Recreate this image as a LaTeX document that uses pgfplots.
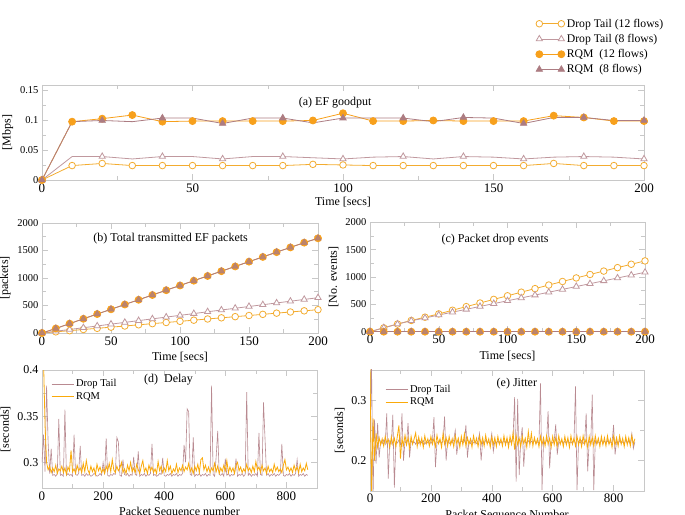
\documentclass[border=0pt]{standalone}
\usepackage{fontspec}
\setmainfont{Liberation Serif}
\usepackage{pgfplots}
\pgfplotsset{compat=1.18}
\usepackage{pgfplotstable}

\definecolor{frame}{RGB}{200,200,200}
\definecolor{dtor}{RGB}{243,172,48}
\definecolor{rqor}{RGB}{247,160,28}
\definecolor{dtmv}{RGB}{192,152,158}
\definecolor{rqmv}{RGB}{172,124,130}
\definecolor{lnmv}{RGB}{185,138,145}
\definecolor{lnor}{RGB}{250,170,10}

\tikzset{ttl/.style={font=\fontsize{12}{14}\selectfont, anchor=center, inner sep=0pt}}

\pgfplotsset{
  panel/.style={
    scale only axis, anchor=south west,
    axis line style={draw=frame}, tick style={draw=frame, line width=0.5pt},
    major tick length=6pt, minor tick length=4pt, minor tick num=1,
    tick align=inside,
    scaled ticks=false,
    /pgf/number format/assume math mode=true,
    /pgf/number format/1000 sep={},
    /pgf/number format/fixed,
    /pgf/number format/precision=3,
    xticklabel style={font=\fontsize{13}{15}\selectfont},
    yticklabel style={font=\fontsize{10.5}{12}\selectfont},
    label style={font=\fontsize{12}{14}\selectfont},
    legend cell align=left,
    legend image code/.code={\draw[##1,mark repeat=1] plot coordinates {(0pt,0pt) (22pt,0pt)};},
  },
  dt12/.style={dtor, line width=0.8pt, mark=*, mark size=3.3pt, mark options={fill=white, line width=0.8pt}},
  dt8/.style={dtmv, line width=0.8pt, mark=triangle*, mark size=3.6pt, mark options={fill=white, line width=0.8pt}},
  rq12/.style={rqor, line width=0.8pt, mark=*, mark size=3.5pt, mark options={fill=rqor}},
  rq8/.style={rqmv, line width=0.8pt, mark=triangle*, mark size=3.6pt, mark options={fill=rqmv}},
}

% (a) EF goodput [Mbps]
\pgfplotstableread{
t dt12 dt8 rq12 rq8
0 0 0 0 0
10 0.024 0.039 0.097 0.097
20 0.0275 0.039 0.102 0.099
30 0.024 0.035 0.108 0.097
40 0.024 0.039 0.097 0.103
50 0.024 0.039 0.098 0.103
60 0.024 0.035 0.098 0.094
70 0.024 0.039 0.098 0.103
80 0.024 0.039 0.098 0.103
90 0.026 0.037 0.099 0.095
100 0.025 0.035 0.111 0.103
110 0.024 0.038 0.098 0.103
120 0.024 0.039 0.098 0.103
130 0.024 0.035 0.099 0.097
140 0.024 0.039 0.098 0.104
150 0.024 0.038 0.098 0.103
160 0.024 0.035 0.098 0.094
170 0.0275 0.038 0.107 0.104
180 0.024 0.039 0.104 0.104
190 0.024 0.038 0.098 0.099
200 0.024 0.035 0.098 0.099
}\tabgood

% (b) total transmitted EF packets
\pgfplotstableread{
t dt12 dt8 rq
0 0 0 0
10 21 32 82
20 42 64 170
30 64 96 258
40 85 128 345
50 106 161 431
60 127 193 518
70 149 225 604
80 170 257 691
90 191 289 778
100 212 321 864
110 233 353 951
120 255 386 1037
130 276 418 1124
140 297 450 1210
150 318 482 1297
160 339 514 1383
170 361 546 1470
180 382 578 1556
190 403 610 1643
200 424 642 1722
}\tabtx

% (c) packet drop events
\pgfplotstableread{
t dt12 dt8 rq
0 0 0 0
10 70 72 0
20 140 140 0
30 205 200 0
40 265 250 0
50 325 305 0
60 392 357 0
70 458 409 0
80 524 461 0
90 590 513 0
100 656 565 0
110 722 617 0
120 787 669 0
130 852 721 0
140 917 773 0
150 982 825 0
160 1045 877 0
170 1107 929 0
180 1170 981 0
190 1232 1033 0
200 1293 1085 0
}\tabdrop

% (d) delay [s]
\pgfplotstableread{
x dt rqm
0 0.300 0.420
5 0.330 0.410
10 0.290 0.340
15 0.383 0.300
20 0.322 0.292
25 0.288 0.296
30 0.315 0.289
35 0.286 0.294
40 0.287 0.290
45 0.285 0.297
50 0.288 0.288
55 0.347 0.293
60 0.286 0.291
65 0.287 0.296
70 0.285 0.289
75 0.357 0.294
80 0.286 0.287
85 0.288 0.295
90 0.286 0.291
95 0.287 0.313
100 0.285 0.290
105 0.330 0.293
110 0.287 0.288
115 0.286 0.297
120 0.288 0.291
125 0.318 0.294
130 0.286 0.289
135 0.287 0.299
140 0.285 0.290
145 0.288 0.302
150 0.286 0.292
155 0.287 0.288
160 0.285 0.296
165 0.286 0.290
170 0.288 0.294
175 0.287 0.287
180 0.285 0.298
185 0.286 0.291
190 0.288 0.295
195 0.286 0.289
200 0.300 0.293
205 0.287 0.288
210 0.326 0.296
215 0.286 0.291
220 0.285 0.299
225 0.287 0.290
230 0.286 0.303
235 0.288 0.292
240 0.287 0.289
245 0.327 0.296
250 0.322 0.291
255 0.286 0.294
260 0.285 0.300
265 0.303 0.289
270 0.287 0.293
275 0.286 0.288
280 0.288 0.297
285 0.285 0.291
290 0.287 0.300
295 0.286 0.290
300 0.306 0.294
305 0.287 0.289
310 0.286 0.298
315 0.312 0.292
320 0.285 0.288
325 0.287 0.296
330 0.286 0.302
335 0.288 0.290
340 0.285 0.294
345 0.287 0.288
350 0.286 0.297
355 0.288 0.291
360 0.320 0.295
365 0.286 0.289
370 0.287 0.293
375 0.285 0.288
380 0.286 0.301
385 0.288 0.291
390 0.287 0.296
395 0.305 0.289
400 0.286 0.294
405 0.285 0.290
410 0.287 0.302
415 0.286 0.291
420 0.288 0.296
425 0.285 0.288
430 0.287 0.293
435 0.286 0.290
440 0.288 0.298
445 0.285 0.289
450 0.287 0.294
455 0.286 0.291
460 0.288 0.297
465 0.319 0.290
470 0.300 0.295
475 0.358 0.292
480 0.355 0.299
485 0.287 0.290
490 0.286 0.294
495 0.327 0.288
500 0.285 0.296
505 0.287 0.291
510 0.286 0.298
515 0.288 0.289
520 0.285 0.303
525 0.287 0.305
530 0.286 0.292
535 0.288 0.297
540 0.285 0.290
545 0.287 0.295
550 0.286 0.289
555 0.383 0.294
560 0.287 0.291
565 0.285 0.299
570 0.306 0.290
575 0.334 0.296
580 0.287 0.288
585 0.286 0.294
590 0.288 0.290
595 0.285 0.297
600 0.304 0.291
605 0.286 0.302
610 0.288 0.289
615 0.285 0.295
620 0.287 0.290
625 0.286 0.294
630 0.288 0.288
635 0.304 0.297
640 0.285 0.300
645 0.287 0.291
650 0.286 0.295
655 0.288 0.289
660 0.285 0.293
665 0.287 0.290
670 0.376 0.298
675 0.286 0.291
680 0.288 0.294
685 0.285 0.289
690 0.287 0.296
695 0.286 0.290
700 0.288 0.301
705 0.285 0.292
710 0.332 0.295
715 0.287 0.289
720 0.286 0.297
725 0.365 0.291
730 0.325 0.294
735 0.286 0.288
740 0.288 0.296
745 0.285 0.290
750 0.287 0.293
755 0.286 0.289
760 0.288 0.298
765 0.285 0.291
770 0.287 0.295
775 0.286 0.290
780 0.288 0.293
785 0.320 0.289
790 0.286 0.297
795 0.285 0.303
800 0.287 0.292
805 0.286 0.295
810 0.288 0.290
815 0.285 0.294
820 0.287 0.289
825 0.286 0.297
830 0.288 0.291
835 0.303 0.295
840 0.285 0.289
845 0.287 0.298
850 0.286 0.290
855 0.288 0.294
860 0.285 0.291
865 0.287 0.299
870 0.286 0.292
}\tabdelay

% (e) jitter [s]
\pgfplotstableread{
x dt rqm
0 0.230 0.360
5 0.360 0.140
10 0.140 0.270
15 0.268 0.200
20 0.195 0.245
25 0.262 0.222
30 0.205 0.238
35 0.232 0.226
40 0.228 0.236
45 0.234 0.224
50 0.227 0.240
55 0.278 0.229
60 0.170 0.235
65 0.233 0.222
70 0.228 0.239
75 0.276 0.227
80 0.155 0.237
85 0.231 0.223
90 0.229 0.241
95 0.234 0.258
100 0.226 0.203
105 0.278 0.236
110 0.200 0.225
115 0.232 0.242
120 0.228 0.226
125 0.262 0.238
130 0.205 0.221
135 0.233 0.240
140 0.229 0.227
145 0.231 0.236
150 0.227 0.246
155 0.234 0.223
160 0.228 0.239
165 0.232 0.226
170 0.229 0.237
175 0.233 0.222
180 0.227 0.241
185 0.231 0.228
190 0.229 0.236
195 0.234 0.224
200 0.228 0.240
205 0.232 0.227
210 0.272 0.237
215 0.189 0.223
220 0.231 0.242
225 0.228 0.228
230 0.233 0.236
235 0.229 0.222
240 0.232 0.245
245 0.273 0.227
250 0.200 0.238
255 0.233 0.224
260 0.228 0.240
265 0.231 0.226
270 0.229 0.236
275 0.234 0.223
280 0.250 0.241
285 0.210 0.228
290 0.232 0.237
295 0.228 0.222
300 0.233 0.240
305 0.229 0.226
310 0.231 0.244
315 0.259 0.224
320 0.205 0.238
325 0.232 0.227
330 0.228 0.236
335 0.234 0.222
340 0.229 0.241
345 0.231 0.228
350 0.228 0.237
355 0.233 0.223
360 0.245 0.240
365 0.200 0.226
370 0.232 0.238
375 0.228 0.224
380 0.234 0.242
385 0.229 0.227
390 0.231 0.236
395 0.228 0.222
400 0.245 0.239
405 0.215 0.226
410 0.232 0.238
415 0.229 0.223
420 0.233 0.240
425 0.228 0.227
430 0.231 0.236
435 0.229 0.224
440 0.234 0.241
445 0.228 0.226
450 0.232 0.238
455 0.229 0.222
460 0.233 0.240
465 0.228 0.227
470 0.240 0.246
475 0.305 0.218
480 0.165 0.241
485 0.302 0.226
490 0.176 0.237
495 0.232 0.223
500 0.255 0.240
505 0.190 0.228
510 0.231 0.237
515 0.229 0.222
520 0.233 0.248
525 0.228 0.226
530 0.232 0.245
535 0.229 0.224
540 0.234 0.238
545 0.228 0.227
550 0.231 0.236
555 0.229 0.223
560 0.328 0.240
565 0.151 0.226
570 0.232 0.238
575 0.228 0.224
580 0.233 0.241
585 0.282 0.227
590 0.187 0.237
595 0.231 0.222
600 0.229 0.240
605 0.233 0.226
610 0.260 0.238
615 0.210 0.224
620 0.231 0.241
625 0.228 0.227
630 0.233 0.236
635 0.229 0.223
640 0.232 0.240
645 0.228 0.226
650 0.234 0.238
655 0.229 0.222
660 0.231 0.241
665 0.228 0.227
670 0.233 0.237
675 0.323 0.224
680 0.151 0.240
685 0.232 0.226
690 0.229 0.238
695 0.233 0.223
700 0.228 0.241
705 0.231 0.227
710 0.278 0.236
715 0.182 0.222
720 0.232 0.240
725 0.229 0.226
730 0.309 0.238
735 0.151 0.224
740 0.233 0.241
745 0.228 0.227
750 0.231 0.237
755 0.229 0.223
760 0.234 0.240
765 0.228 0.226
770 0.232 0.238
775 0.229 0.224
780 0.233 0.241
785 0.228 0.227
790 0.231 0.236
795 0.229 0.222
800 0.259 0.240
805 0.210 0.226
810 0.232 0.238
815 0.228 0.224
820 0.233 0.241
825 0.229 0.227
830 0.231 0.237
835 0.228 0.223
840 0.234 0.240
845 0.229 0.226
850 0.232 0.238
855 0.228 0.224
860 0.245 0.241
865 0.220 0.227
870 0.231 0.236
}\tabjitter

\begin{document}
\begin{tikzpicture}
\useasboundingbox (0,0) rectangle (685pt,514pt);

% (a)
\begin{axis}[panel, at={(42pt,334pt)}, width=602pt, height=95pt,
  xmin=0, xmax=200, ymin=0, ymax=0.158,
  xtick={0,50,...,200}, ytick={0,0.05,0.1,0.15},
  xlabel={Time [secs]}, ylabel={{[Mbps]}},
  xlabel style={yshift=2pt},
  legend style={at={(0.815,1.74)}, anchor=north west, draw=none, fill=none,
    font=\fontsize{11.7}{14}\selectfont, row sep=1.5pt},
]
\addplot[dt12] table[x=t,y=dt12]{\tabgood};
\addplot[dt8, mark repeat=2] table[x=t,y=dt8]{\tabgood};
\addplot[rq12] table[x=t,y=rq12]{\tabgood};
\addplot[rq8, mark repeat=2] table[x=t,y=rq8]{\tabgood};
\legend{Drop Tail (12 flows), Drop Tail (8 flows), RQM\ \ (12 flows), RQM\ \ (8 flows)}
\node[ttl] at (rel axis cs:0.487,0.81) {(a) EF goodput};
\end{axis}

% (b)
\begin{axis}[panel, at={(42pt,181pt)}, width=276pt, height=110pt,
  xmin=0, xmax=200, ymin=0, ymax=2000,
  xtick={0,50,...,200}, ytick={0,500,...,2000},
  xlabel={Time [secs]}, ylabel={{[packets]}},
]
\addplot[dt12] table[x=t,y=dt12]{\tabtx};
\addplot[dt8] table[x=t,y=dt8]{\tabtx};
\addplot[rq12] table[x=t,y=rq]{\tabtx};
\addplot[rq8, mark options={fill=rqmv, fill opacity=0.75, draw opacity=0.75}] table[x=t,y=rq]{\tabtx};
\node[ttl] at (rel axis cs:0.466,0.855) {(b) Total transmitted EF packets};
\end{axis}

% (c)
\begin{axis}[panel, at={(370pt,182.3pt)}, width=275pt, height=109.5pt,
  xmin=0, xmax=200, ymin=0, ymax=2000,
  xtick={0,50,...,200}, ytick={0,500,...,2000},
  xlabel={Time [secs]}, ylabel={{[No. events]}},
]
\addplot[dt12] table[x=t,y=dt12]{\tabdrop};
\addplot[dt8] table[x=t,y=dt8]{\tabdrop};
\addplot[rq12] table[x=t,y=rq]{\tabdrop};
\addplot[rq8, mark options={fill=rqmv, fill opacity=0.75, draw opacity=0.75}] table[x=t,y=rq]{\tabdrop};
\node[ttl] at (rel axis cs:0.455,0.845) {(c) Packet drop events};
\end{axis}

% (d)
\begin{axis}[panel, at={(42pt,25.7pt)}, width=275pt, height=118.3pt,
  xmin=0, xmax=900, ymin=0.272, ymax=0.4,
  xtick={0,200,...,800}, ytick={0.3,0.35,0.4},
  yticklabel style={font=\fontsize{12}{14}\selectfont},
  xlabel={Packet Sequence number}, ylabel={{[seconds]}},
  legend style={at={(0.022,0.955)}, anchor=north west, draw=none, fill=none,
    font=\fontsize{10.5}{12}\selectfont},
]
\addplot[lnmv, line width=0.6pt] table[x=x,y=dt]{\tabdelay};
\addplot[lnor, line width=0.8pt] table[x=x,y=rqm]{\tabdelay};
\legend{Drop Tail, RQM}
\node[ttl] at (rel axis cs:0.46,0.915) {(d)\ \ Delay};
\end{axis}

% (e)
\begin{axis}[panel, at={(370pt,23.3pt)}, width=274pt, height=120.7pt,
  xmin=0, xmax=900, ymin=0.15, ymax=0.35,
  xtick={0,200,...,800}, ytick={0.2,0.3},
  yticklabel style={font=\fontsize{12}{14}\selectfont},
  xlabel={Packet Sequence Number}, ylabel={{[seconds]}},
  legend style={at={(0.044,0.91)}, anchor=north west, draw=none, fill=none,
    font=\fontsize{10.5}{12}\selectfont},
]
\addplot[lnmv, line width=0.6pt] table[x=x,y=dt]{\tabjitter};
\addplot[lnor, line width=0.8pt] table[x=x,y=rqm]{\tabjitter};
\legend{Drop Tail, RQM}
\node[ttl] at (rel axis cs:0.536,0.89) {(e) Jitter};
\end{axis}
\end{tikzpicture}
\end{document}
